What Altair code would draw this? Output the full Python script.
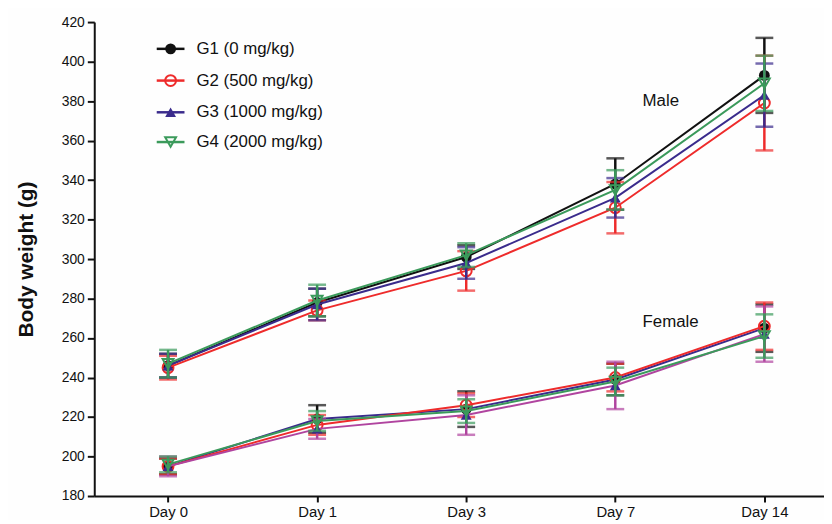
import altair as alt
import pandas as pd

# ---------------- data ----------------
days = ["Day 0", "Day 1", "Day 3", "Day 7", "Day 14"]
groups = ["G1 (0 mg/kg)", "G2 (500 mg/kg)", "G3 (1000 mg/kg)", "G4 (2000 mg/kg)"]
group_keys = ["G1", "G2", "G3", "G4"]

male_mean = {
    "G1": [246, 278, 301, 338, 393],
    "G2": [245, 274, 294, 326, 379],
    "G3": [246, 277, 298, 331, 383],
    "G4": [247, 279, 302, 335, 389],
}
male_err = {
    "G1": [6, 7, 6, 13, 19],
    "G2": [6, 5, 10, 13, 24],
    "G3": [6, 8, 8, 10, 16],
    "G4": [7, 8, 6, 10, 14],
}
female_mean = {
    "G1": [195, 219, 224, 239, 265],
    "G2": [195, 216, 226, 240, 266],
    "G3": [195, 214, 221, 236, 262],
    "G4": [196, 218, 223, 238, 261],
}
female_err = {
    "G1": [4, 7, 9, 8, 12],
    "G2": [4, 5, 6, 7, 12],
    "G3": [5, 5, 10, 12, 14],
    "G4": [4, 5, 6, 7, 11],
}
sex_labels = ["Male", "Female"]
y_ticks = [180, 200, 220, 240, 260, 280, 300, 320, 340, 360, 380, 400, 420]

# ---------------- styles ----------------
BLACK = "#111111"
RED = "#ee2b2b"
BLUE = "#3a2b8c"
GREEN = "#3b9a5b"
MAGENTA = "#b0449f"
marker_color = {"G1": BLACK, "G2": RED, "G3": BLUE, "G4": GREEN}
marker_shape = {"G1": "circle", "G2": "circle", "G3": "triangle-up", "G4": "triangle-down"}
marker_filled = {"G1": True, "G2": False, "G3": True, "G4": False}
line_color = {
    "Male": {"G1": BLACK, "G2": RED, "G3": BLUE, "G4": GREEN},
    "Female": {"G1": BLUE, "G2": RED, "G3": MAGENTA, "G4": GREEN},
}
err_color = {
    "Male": {"G1": BLACK, "G2": RED, "G3": BLUE, "G4": GREEN},
    "Female": {"G1": BLACK, "G2": RED, "G3": MAGENTA, "G4": GREEN},
}

rows = []
for sex, means, errs in [("Male", male_mean, male_err), ("Female", female_mean, female_err)]:
    for g in group_keys:
        for i, d in enumerate(days):
            m = means[g][i]
            e = errs[g][i]
            rows.append({
                "sex": sex, "g": g, "series": sex + " " + g, "day": i, "dayname": d,
                "mean": m, "lo": m - e, "hi": m + e,
                "lc": line_color[sex][g], "ec": err_color[sex][g],
            })
df = pd.DataFrame(rows)

FONT = "Liberation Sans"
label_expr = "[" + ",".join("'" + d + "'" for d in days) + "][datum.value]"

x_enc = alt.X(
    "day:Q",
    scale=alt.Scale(domain=[-0.495, 4.40], nice=False, zero=False),
    axis=alt.Axis(values=list(range(len(days))), labelExpr=label_expr, title=None,
                  grid=False, tickSize=6, labelFontSize=15, labelPadding=3, labelFlush=False,
                  labelOverlap=False),
)
y_scale = alt.Scale(domain=[180, 420], nice=False, zero=False)
y_axis = alt.Axis(values=y_ticks, tickCount=len(y_ticks), title="Body weight (g)", grid=False,
                  tickSize=7, labelFontSize=14, labelPadding=3, labelFlush=False,
                  labelOverlap=False,
                  titleFontSize=21, titleFontWeight="bold", titlePadding=25)


def Y(field):
    return alt.Y(field, scale=y_scale, axis=y_axis)


layers = []
for g in group_keys:
    gd = df[df["g"] == g]
    line = alt.Chart(gd).mark_line(strokeWidth=2).encode(
        x=x_enc,
        y=Y("mean:Q"),
        color=alt.Color("lc:N", scale=None),
        detail="series:N",
        order="day:Q",
    )
    bar = alt.Chart(gd).mark_rule(strokeWidth=2.5).encode(
        x=x_enc, y=Y("lo:Q"), y2="hi:Q",
        color=alt.Color("ec:N", scale=None),
    )
    cap_lo = alt.Chart(gd).mark_tick(orient="horizontal", size=18, thickness=2.5).encode(
        x=x_enc, y=Y("lo:Q"), color=alt.Color("ec:N", scale=None),
    )
    cap_hi = alt.Chart(gd).mark_tick(orient="horizontal", size=18, thickness=2.5).encode(
        x=x_enc, y=Y("hi:Q"), color=alt.Color("ec:N", scale=None),
    )
    if marker_filled[g]:
        pts = alt.Chart(gd).mark_point(filled=True, size=120, opacity=1,
                                       shape=marker_shape[g], color=marker_color[g])
    else:
        pts = alt.Chart(gd).mark_point(filled=False, size=120, opacity=1, strokeWidth=2,
                                       shape=marker_shape[g], color=marker_color[g])
    pts = pts.encode(x=x_enc, y=Y("mean:Q"))
    layers += [line, bar, cap_lo, cap_hi, pts]

# ---------------- legend (drawn manually) ----------------
leg_y = [27, 59, 91, 121]
for i, g in enumerate(group_keys):
    ld = pd.DataFrame({"label": [groups[i]]})
    layers.append(alt.Chart(ld).mark_rule(strokeWidth=2.5, color=marker_color[g]).encode(
        x=alt.value(63), x2=alt.value(91), y=alt.value(leg_y[i])))
    if marker_filled[g]:
        lp = alt.Chart(ld).mark_point(filled=True, size=120, opacity=1,
                                      shape=marker_shape[g], color=marker_color[g])
    else:
        lp = alt.Chart(ld).mark_point(filled=False, size=120, opacity=1, strokeWidth=2,
                                      shape=marker_shape[g], color=marker_color[g])
    layers.append(lp.encode(x=alt.value(77), y=alt.value(leg_y[i])))
    layers.append(alt.Chart(ld).mark_text(align="left", baseline="middle", fontSize=17,
                                          font=FONT, color="#111111").encode(
        x=alt.value(103), y=alt.value(leg_y[i]), text="label:N"))

# ---------------- Male / Female labels ----------------
sex_pos = {"Male": 80, "Female": 303}
for s in sex_labels:
    sd = pd.DataFrame({"label": [s]})
    layers.append(alt.Chart(sd).mark_text(align="left", baseline="middle", fontSize=17,
                                          font=FONT, color="#111111").encode(
        x=alt.value(553), y=alt.value(sex_pos[s]), text="label:N"))

chart = alt.layer(*layers).properties(
    width=736, height=478,
    autosize=alt.AutoSizeParams(type="none"),
    padding={"left": 87, "top": 12, "right": 0, "bottom": 22},
    background="#fefefe",
).configure_view(stroke=None).configure_axis(
    domainColor="#111111", domainWidth=2, tickColor="#111111", tickWidth=2,
    labelColor="#111111", titleColor="#111111", labelFont=FONT, titleFont=FONT,
)

chart.save("out.html", embed_options={"renderer": "svg", "actions": False})
